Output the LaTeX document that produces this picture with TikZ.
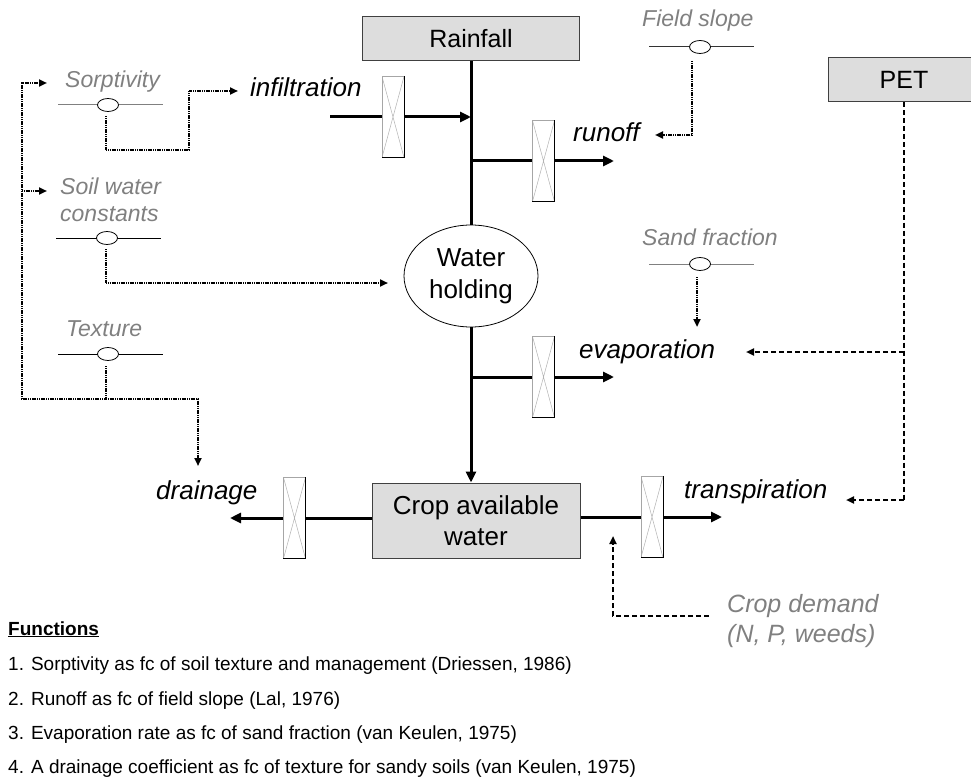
\documentclass[tikz,border=0pt]{standalone}
\usepackage{fontspec}
\setmainfont{Liberation Sans}
\usetikzlibrary{arrows.meta,shapes.geometric,calc}
\definecolor{boxfill}{RGB}{221,221,221}
\definecolor{boxline}{RGB}{64,64,64}
\definecolor{labelgray}{RGB}{128,128,128}
\tikzset{
  stock/.style={draw=boxline, fill=boxfill, line width=1pt, inner sep=0pt,
    font=\fontsize{25}{30}\selectfont},
  valve/.style={draw=gray!70, line width=0.6pt, fill=white, inner sep=0pt,
    minimum width=22pt, minimum height=81pt,
    path picture={\draw[gray!60, line width=0.5pt]
      (path picture bounding box.north west) -- (path picture bounding box.south east)
      (path picture bounding box.north east) -- (path picture bounding box.south west);}},
  flow/.style={line width=3pt, black},
  flowarrow/.style={flow, -{Triangle[length=11pt,width=10pt]}},
  infoline/.style={line width=2pt, dash pattern=on 1.2pt off 0.6pt},
  info/.style={infoline, -{Triangle[length=8pt,width=7pt]}},
  petline/.style={line width=2pt, dash pattern=on 5pt off 3pt},
  petarrow/.style={petline, -{Triangle[length=8pt,width=7pt]}},
  flowlbl/.style={font=\fontsize{26}{32}\selectfont\itshape, inner sep=0pt},
  paramlbl/.style={font=\fontsize{23}{27}\selectfont\itshape, text=labelgray, inner sep=0pt},
  knob/.style={ellipse, draw, fill=white, line width=0.8pt, inner sep=0pt,
    minimum width=21pt, minimum height=13pt},
  funclbl/.style={font=\fontsize{19}{23}\selectfont, inner sep=0pt, anchor=base west},
}
\begin{document}
\begin{tikzpicture}[x=1pt,y=-1pt]
\clip (0,0) rectangle (971,778);

% stocks
\node[stock, minimum width=217pt, minimum height=44pt] (rain) at (471,39) {Rainfall};
\node[stock, minimum width=152pt, minimum height=44pt] (pet) at (904,80) {PET};
\node[stock, minimum width=208pt, minimum height=75pt, align=center,
      font=\fontsize{26}{31}\selectfont] (crop) at (476,520.5) {Crop available\\water};
\node[ellipse, draw, line width=0.8pt, minimum width=134pt, minimum height=102pt,
      inner sep=0pt, align=center, font=\fontsize{26}{32}\selectfont] (wh) at (471,276) {Water\\holding};

% valves
\node[valve] (vinf) at (393,117) {};
\node[valve] (vrun) at (543.5,161) {};
\node[valve] (vevp) at (543.5,377) {};
\node[valve] (vdrn) at (294.5,518) {};
\node[valve] (vtrn) at (652,517) {};
\foreach \v in {vinf,vrun,vevp,vdrn,vtrn}
  \draw[black, line width=0.8pt] (\v.north east) -- (\v.south east) -- (\v.south west);

% main water flows
\coordinate (infsrc) at (330,117);
\coordinate (jinf) at (471,117);
\coordinate (jrun) at (471,161);
\coordinate (jevp) at (471,377);
\coordinate (runend) at (614,161);
\coordinate (evpend) at (614,377);
\coordinate (drnend) at (230,518);
\coordinate (trnend) at (722,517);

\draw[flow] (rain.south) -- (wh.north);
\draw[flowarrow] (wh.south) -- (wh.south |- crop.north);
\draw[flow] (infsrc) -- (vinf.west);
\draw[flowarrow] (vinf.east) -- (jinf);
\draw[flow] (jrun) -- (vrun.west);
\draw[flowarrow] (vrun.east) -- (runend);
\draw[flow] (jevp) -- (vevp.west);
\draw[flowarrow] (vevp.east) -- (evpend);
\draw[flow] (crop.west |- vdrn) -- (vdrn.east);
\draw[flowarrow] (vdrn.west) -- (drnend);
\draw[flow] (crop.east |- vtrn) -- (vtrn.west);
\draw[flowarrow] (vtrn.east) -- (trnend);

% flow labels
\node[flowlbl, anchor=base west] (linf) at (250,97) {infiltration};
\node[flowlbl, anchor=base west] (lrun) at (573,142) {runoff};
\node[flowlbl, anchor=base west] (levp) at (579,358) {evaporation};
\node[flowlbl, anchor=base west] (ldrn) at (156,499) {drainage};
\node[flowlbl, anchor=base west] (ltrn) at (684,498) {transpiration};

% parameters: bar with knob
\coordinate (sorpc) at (108,105);
\coordinate (fslc) at (700,47);
\coordinate (soilc) at (107,238);
\coordinate (texc) at (108,354);
\coordinate (sandc) at (700,264);
\draw[labelgray, line width=1pt] (sorpc) ++(-50,0) -- ++(105,0);
\draw[black!80, line width=1pt] (fslc) ++(-51,0) -- ++(105,0);
\draw[black, line width=1pt] (soilc) ++(-51,0) -- ++(105,0);
\draw[black, line width=1pt] (texc) ++(-50,0) -- ++(105,0);
\draw[labelgray, line width=1pt] (sandc) ++(-51,0) -- ++(105,0);
\node[knob] (sorp) at (sorpc) {};
\node[knob] (fsl) at (fslc) {};
\node[knob] (soil) at (soilc) {};
\node[knob] (tex) at (texc) {};
\node[knob] (sand) at (sandc) {};

\node[paramlbl, anchor=base west] (lsorp) at (65,88) {Sorptivity};
\node[paramlbl, anchor=base west] (lfsl) at (642,27) {Field slope};
\node[paramlbl, anchor=north west, align=left] (lsoil) at (60,178) {Soil water\\constants};
\node[paramlbl, anchor=base west] (ltex) at (66,336) {Texture};
\node[paramlbl, anchor=base west] (lsand) at (642,245) {Sand fraction};
\node[paramlbl, anchor=north west, align=left, font=\fontsize{25}{30}\selectfont\itshape]
  (lcd) at (727,594) {Crop demand\\(N, P, weeds)};

% information links
\coordinate (sorpout) at (106,116);
\coordinate (sorpbend) at (189,150);
\coordinate (toinf) at (238,91);
\coordinate (texout) at (106,366);
\coordinate (loopL) at (22,399);
\coordinate (loopM) at (106,399);
\coordinate (todrn) at (198,466);
\coordinate (tosorp) at (47,83);
\coordinate (soiltap) at (22,191);
\coordinate (tosoil) at (47,191);
\coordinate (soilout) at (106,249);
\coordinate (towh) at (388,283);
\coordinate (fslout) at (692,61);
\coordinate (torun) at (655,135);
\coordinate (sandout) at (697,277);
\coordinate (toevp) at (697,327);

\draw[info] (sorpout) |- (sorpbend) |- (toinf);
\draw[info] (texout) |- (loopL) |- (tosorp);
\draw[info] (loopM) -| (todrn);
\draw[info] (soiltap) -- (tosoil);
\draw[info] (soilout) |- (towh);
\draw[info] (fslout) |- (torun);
\draw[info] (sandout) -- (toevp);

% PET and crop demand drivers
\coordinate (petjn) at (904,352);
\coordinate (petend) at (904,500);
\coordinate (toevpd) at (746,352);
\coordinate (totrn) at (846,500);
\coordinate (cdout) at (709,616);
\coordinate (totrnv) at (613,536);
\draw[petline] (pet.south) -- (petend);
\draw[petarrow] (petjn) -- (toevpd);
\draw[petarrow] (petend) -- (totrn);
\draw[petarrow] (cdout) -| (totrnv);

% list of functions
\node[funclbl, font=\fontsize{19}{23}\selectfont\bfseries] (fhead) at (8,635) {\underline{Functions}};
\node[funclbl] (f1) at (8,670) {1. Sorptivity as fc of soil texture and management (Driessen, 1986)};
\node[funclbl] (f2) at (8,705) {2. Runoff as fc of field slope (Lal, 1976)};
\node[funclbl] (f3) at (8,739) {3. Evaporation rate as fc of sand fraction (van Keulen, 1975)};
\node[funclbl] (f4) at (8,773) {4. A drainage coefficient as fc of texture for sandy soils (van Keulen, 1975)};
\end{tikzpicture}
\end{document}
